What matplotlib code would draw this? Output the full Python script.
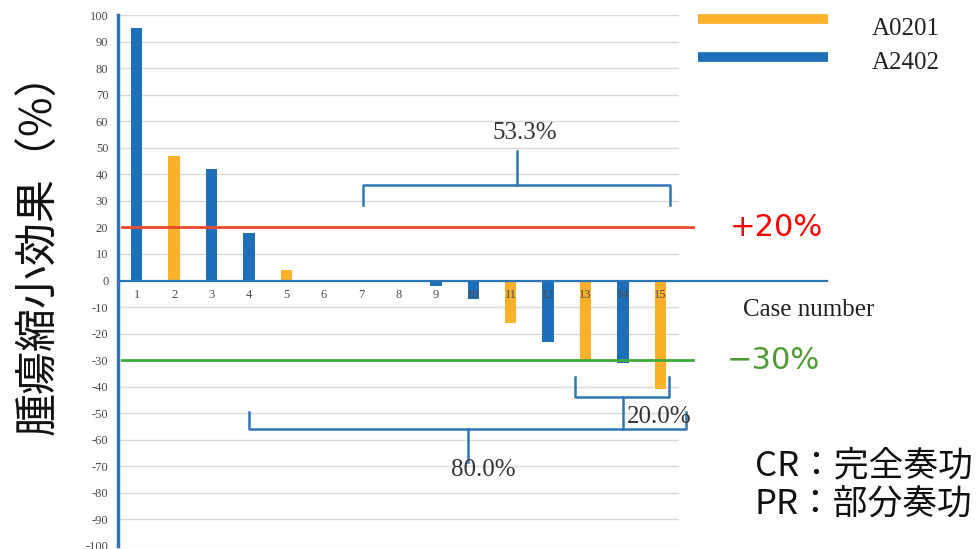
import matplotlib
matplotlib.use("Agg")
import matplotlib.pyplot as plt
from matplotlib.lines import Line2D

plt.rcParams['font.family'] = ['Noto Sans CJK JP', 'DejaVu Sans']
plt.rcParams['axes.unicode_minus'] = False

# data
cases = list(range(1, 16))
response = [95, 47, 42, 18, 4, 0, 0, 0, -2, -7, -16, -23, -30, -31, -41]
hla_type = ['A2402', 'A0201', 'A2402', 'A2402', 'A0201', 'A2402', 'A2402', 'A2402',
            'A2402', 'A2402', 'A0201', 'A2402', 'A0201', 'A2402', 'A0201']
series = ['A0201', 'A2402']
colors = {'A0201': '#FBB22A', 'A2402': '#1D6FBA'}
y_ticks = list(range(-100, 101, 10))
pr_line = 20
pd_line = -30

SERIF = 'Liberation Serif'
GRAY = '#4A4A4A'
W, H = 978, 549

fig = plt.figure(figsize=(W / 100, H / 100), dpi=100)
ax = fig.add_axes([118 / W, 3 / H, 561 / W, 531 / H])

# bars
bar_colors = [colors[t] for t in hla_type]
ax.bar(cases, response, width=0.3, color=bar_colors, zorder=3)

ax.set_xlim(0.5, 15.5)
ax.set_ylim(-100, 100)
ax.set_yticks(y_ticks)
ax.set_yticklabels([str(v) for v in y_ticks], fontsize=9, family=SERIF, color=GRAY)
ax.tick_params(axis='y', length=0, pad=7)
ax.set_xticks([])
ax.yaxis.grid(True, color='#D9D9D9', lw=1, zorder=0)
ax.set_axisbelow(True)
for s in ['top', 'right', 'bottom']:
    ax.spines[s].set_visible(False)
ax.spines['left'].set_color('#2E75B6')
ax.spines['left'].set_linewidth(2.5)

# case numbers just under the zero line
for c in cases:
    ax.text(c, -5.3, str(c), ha='center', va='center', fontsize=9,
            family=SERIF, color=GRAY, zorder=4)

# zero axis, reaching out past the plot
ax.plot([0.5, 19.45], [0, 0], color='#2E75B6', lw=1.6, clip_on=False, zorder=4)

# response threshold lines
ax.plot([0.61, 15.87], [pr_line, pr_line], color='#EF4A2A', lw=2, clip_on=False, zorder=5)
ax.plot([0.61, 15.87], [pd_line, pd_line], color='#3DAA3A', lw=2, clip_on=False, zorder=5)

ax.text(16.86, pr_line, '+20%', color='#FF0000', fontsize=22, family='DejaVu Sans',
        va='center', ha='left')
ax.text(16.78, pd_line, '\u221230%', color='#4E9A35', fontsize=22, family='DejaVu Sans',
        va='center', ha='left')
ax.text(17.2, -11, 'Case number', fontsize=18, family=SERIF, color='#222222',
        va='center', ha='left')


def brace(x0, x1, xm, y_end, y_mid, y_tip):
    # curly bracket made of straight pieces
    ax.plot([x0, x0, x1, x1], [y_end, y_mid, y_mid, y_end], color='#2E75B6',
            lw=1.8, clip_on=False, zorder=6, solid_joinstyle='round')
    ax.plot([xm, xm], [y_mid, y_tip], color='#2E75B6', lw=1.8,
            clip_on=False, zorder=6)


brace(7.05, 15.26, 11.17, 28.6, 35.8, 48.6)
ax.text(11.38, 55.7, '53.3%', fontsize=18, family=SERIF, color='#333333',
        ha='center', va='center', zorder=7)

brace(4.0, 15.69, 9.86, -49.7, -56.1, -68.2)
ax.text(10.26, -71.2, '80.0%', fontsize=18, family=SERIF, color='#333333',
        ha='center', va='center', zorder=7)

brace(12.72, 15.23, 14.0, -36.2, -43.7, -56.1)
ax.text(14.1, -51.6, '20.0%', fontsize=18, family=SERIF, color='#333333',
        ha='left', va='center', zorder=7)

# legend drawn as wide strokes
for i, name in enumerate(series):
    y_line = 1 - [19, 57][i] / H
    y_txt = 1 - [29, 63][i] / H
    fig.add_artist(Line2D([698 / W, 828 / W], [y_line, y_line],
                          transform=fig.transFigure, lw=7, color=colors[name],
                          solid_capstyle='butt'))
    fig.text(872 / W, y_txt, name, fontsize=18, family=SERIF, color='#222222',
             va='center', ha='left')

# y label and notes
fig.text(40 / W, 1 - 243 / H, '腫瘍縮小効果（%）', rotation=90, fontsize=31,
         ha='center', va='center', color='#111111')
fig.text(755 / W, 1 - 466 / H, 'CR：完全奏功', fontsize=25, ha='left', va='center',
         color='#111111')
fig.text(755 / W, 1 - 505 / H, 'PR：部分奏功', fontsize=25, ha='left', va='center',
         color='#111111')

fig.savefig('out.png', dpi=100)
